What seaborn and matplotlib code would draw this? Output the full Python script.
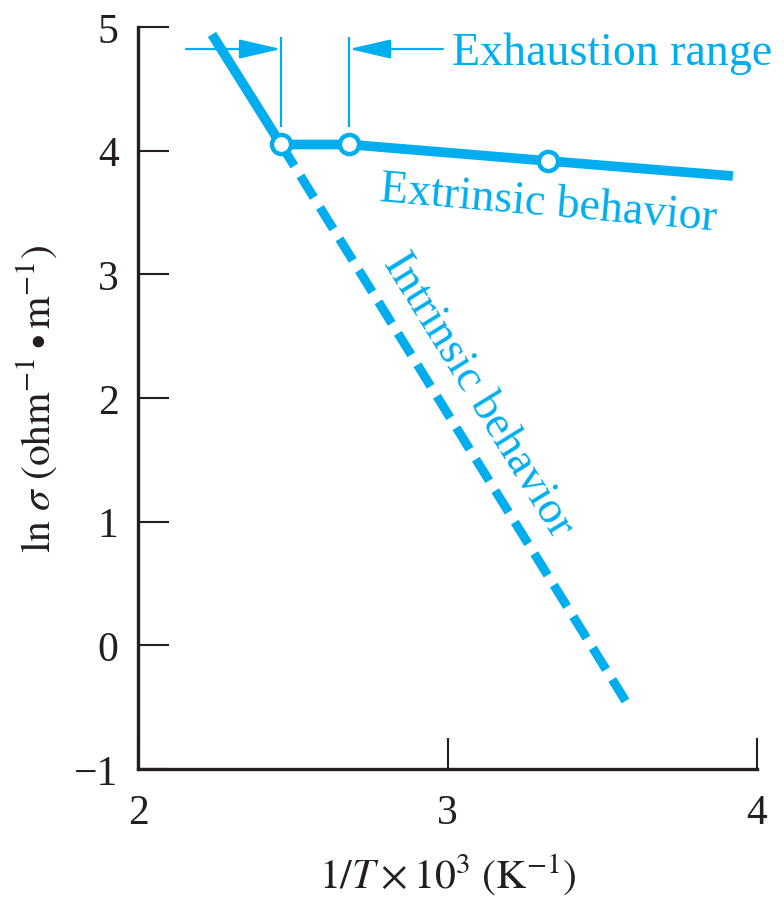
import numpy as np
import matplotlib.pyplot as plt
import seaborn as sns
import pandas as pd

# values (x = 1/T x 10^3, y = ln sigma)
extr_x = [2.239, 2.462, 2.682, 3.325, 3.922]
extr_y = [4.94, 4.05, 4.05, 3.917, 3.795]
circle_x = [2.462, 2.682, 3.325]
circle_y = [4.05, 4.05, 3.917]
intr_x = [2.462, 3.595]
intr_y = [4.05, -0.53]
x_ticks = [2, 3, 4]
y_ticks = [-1, 0, 1, 2, 3, 4, 5]

# exhaustion range bracket
exh_left = 2.462
exh_right = 2.682

cyan = "#00AEEF"
ink = "#231F20"

sns.set_theme(style="ticks")
plt.rcParams["font.family"] = ["Liberation Serif", "DejaVu Serif"]
plt.rcParams["mathtext.fontset"] = "stix"

fig = plt.figure(figsize=(7.84, 9.03), dpi=100)
ax = fig.add_axes([138 / 784, 1 - 770 / 903, (757 - 138) / 784, (770 - 28) / 903])

# extrinsic (solid) and intrinsic (dashed) lines
df_extr = pd.DataFrame({"x": extr_x, "y": extr_y})
df_intr = pd.DataFrame({"x": intr_x, "y": intr_y})
sns.lineplot(data=df_extr, x="x", y="y", sort=False, color=cyan, lw=7,
             solid_capstyle="butt", ax=ax, zorder=3)
sns.lineplot(data=df_intr, x="x", y="y", sort=False, color=cyan, lw=6.5,
             linestyle=(0, (2.8, 1.3)), dash_capstyle="butt", ax=ax, zorder=2)

# open circles
ax.scatter(circle_x, circle_y, s=190, facecolor="white", edgecolor=cyan,
           linewidth=3.2, zorder=5)

# exhaustion range markers
ax.vlines([exh_left, exh_right], 4.19, 4.92, color=cyan, lw=1.6, zorder=4)
arrow_kw = dict(arrowstyle="-|>,head_length=1.3,head_width=0.3", color=cyan,
                lw=1.6, shrinkA=0, shrinkB=0, mutation_scale=20)
ax.annotate("", xy=(exh_left, 4.822), xytext=(2.155, 4.822), arrowprops=arrow_kw)
ax.annotate("", xy=(exh_right, 4.822), xytext=(2.985, 4.822), arrowprops=arrow_kw)
ax.text(3.015, 4.70, "Exhaustion range", color=cyan, fontsize=33,
        ha="left", va="baseline")

ax.text(3.325, 3.57, "Extrinsic behavior", color=cyan, fontsize=33,
        ha="center", va="center", rotation=-5, rotation_mode="anchor")
ax.text(3.099, 2.033, "Intrinsic behavior", color=cyan, fontsize=33,
        ha="center", va="center", rotation=-58.3, rotation_mode="anchor")

ax.set_xlim(2, 4)
ax.set_ylim(-1, 5)
ax.set_xticks(x_ticks)
ax.set_yticks(y_ticks)
ax.tick_params(direction="in", length=22, width=1.5, color=ink,
               labelcolor=ink, labelsize=30, pad=14)
ax.tick_params(axis="x", pad=18)
sns.despine(ax=ax)
for side in ["left", "bottom"]:
    ax.spines[side].set_linewidth(2.4)
    ax.spines[side].set_color(ink)

ax.set_xlabel(r"$1/T \times 10^3\ (\mathrm{K}^{-1})$", fontsize=30,
              color=ink, labelpad=14)
ax.set_ylabel(r"$\mathrm{ln}\ \sigma\ (\mathrm{ohm}^{-1}\bullet\mathrm{m}^{-1})$",
              fontsize=30, color=ink, labelpad=10)

fig.savefig("out.png", dpi=100)
